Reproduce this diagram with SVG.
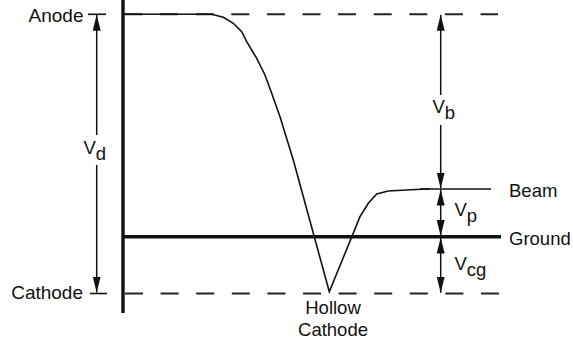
<svg xmlns="http://www.w3.org/2000/svg" width="573" height="343" viewBox="0 0 573 343">
<style>
text{font-family:"Liberation Sans",Arial,sans-serif;font-size:19px;fill:#111}
.r{font-size:18.5px}
.dash{stroke:#222;stroke-width:2;stroke-dasharray:18 17.6;fill:none}
.thin{stroke:#111;stroke-width:1.6;fill:none}
.thick{stroke:#111;stroke-width:3.4;fill:none}
.arr{stroke:#111;stroke-width:1.5;fill:none;marker-end:url(#ah)}
</style>
<defs>
<marker id="ah" markerUnits="userSpaceOnUse" markerWidth="16" markerHeight="8" refX="16" refY="4" orient="auto"><path d="M0,0 L16,4 L0,8 Z" fill="#111"/></marker>
</defs>
<g id="reference-lines">
<line class="dash" x1="124.5" y1="14.3" x2="498" y2="14.3"/>
<line class="dash" x1="125" y1="293.5" x2="499" y2="293.5"/>
<line class="thin" x1="88" y1="14.3" x2="106" y2="14.3"/>
<line class="thin" x1="90" y1="293.5" x2="107" y2="293.5"/>
<line id="axis" class="thick" x1="123" y1="0" x2="123" y2="313"/>
<line id="ground" class="thick" x1="123" y1="236.7" x2="501" y2="236.7"/>
<line id="beam" class="thin" x1="420" y1="189" x2="491" y2="189"/>
</g>
<g id="potential-curve">
<polyline class="thin" stroke-width="1.8" points="123,14.3 211.7,14.3 223.3,17.3 233.3,23.3 241.7,31.7 246.7,41.7 256.7,58.3 265,75 271.7,93.3 280,116.7 293.3,160 329.3,291.7 360,216.7 368.3,203.3 376.7,194 388.3,191 430,188.8"/>
</g>
<g id="connectors">
<line class="arr" x1="96.7" y1="135" x2="96.7" y2="14.8"/>
<line class="arr" x1="96.7" y1="165" x2="96.7" y2="292.5"/>
<line class="arr" x1="440.7" y1="95" x2="440.7" y2="14.8"/>
<line class="arr" x1="440.7" y1="125" x2="440.7" y2="188.5"/>
<line class="arr" x1="440.7" y1="213" x2="440.7" y2="189.5"/>
<line class="arr" x1="440.7" y1="213" x2="440.7" y2="236"/>
<line class="arr" x1="440.7" y1="265" x2="440.7" y2="237.5"/>
<line class="arr" x1="440.7" y1="265" x2="440.7" y2="292.8"/>
</g>
<g id="labels">
<text x="83.5" y="21.5" text-anchor="end">Anode</text>
<text x="83" y="298.5" text-anchor="end">Cathode</text>
<text class="r" x="509" y="197">Beam</text>
<text class="r" x="509" y="244.5">Ground</text>
<text class="r" x="333" y="313.5" text-anchor="middle">Hollow</text>
<text class="r" x="333" y="335.5" text-anchor="middle">Cathode</text>
<text class="r" x="83.5" y="153.5">V<tspan dy="6.5">d</tspan></text>
<text class="r" x="432.5" y="113.3">V<tspan dy="6">b</tspan></text>
<text class="r" x="454.5" y="215.5">V<tspan dy="6.5">p</tspan></text>
<text class="r" x="454.5" y="270">V<tspan dy="6">cg</tspan></text>
</g>
</svg>
